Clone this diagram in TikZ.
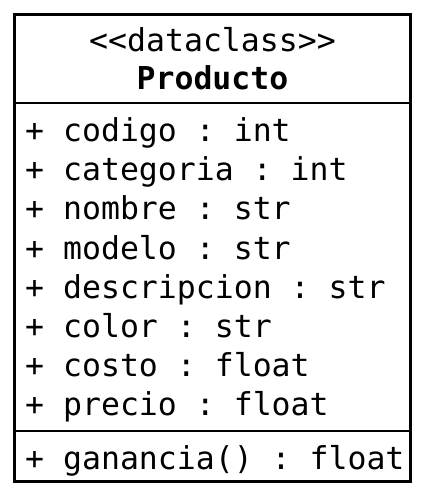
\documentclass[tikz,border=0pt]{standalone}
\usepackage{fontspec}
\setmonofont{DejaVu Sans Mono}
\begin{document}
\begin{tikzpicture}[x=1pt,y=-1pt,
  txt/.style={inner sep=0pt,font=\fontsize{31.5}{36}\ttfamily},
  attr/.style={txt,anchor=base west}]
\useasboundingbox (0,0) rectangle (421,495);
\draw[line width=3pt] (14.5,14.5) rectangle (410.5,481.5);
\draw[line width=1.2pt] (14.5,103) -- (410.5,103);
\draw[line width=1.2pt] (14.5,431) -- (410.5,431);
\node[txt,anchor=base] (st) at (212.5,52) {<<dataclass>>};
\node[txt,anchor=base,font=\fontsize{31.5}{36}\ttfamily\bfseries] (nm) at (212.5,89) {Producto};
\node[attr] (a1) at (25,141) {+ codigo : int};
\node[attr] (a2) at (25,180) {+ categoria : int};
\node[attr] (a3) at (25,219.5) {+ nombre : str};
\node[attr] (a4) at (25,259) {+ modelo : str};
\node[attr] (a5) at (25,298) {+ descripcion : str};
\node[attr] (a6) at (25,337) {+ color : str};
\node[attr] (a7) at (25,376) {+ costo : float};
\node[attr] (a8) at (25,415) {+ precio : float};
\node[attr] (m1) at (25,469) {+ ganancia() : float};
\end{tikzpicture}
\end{document}
